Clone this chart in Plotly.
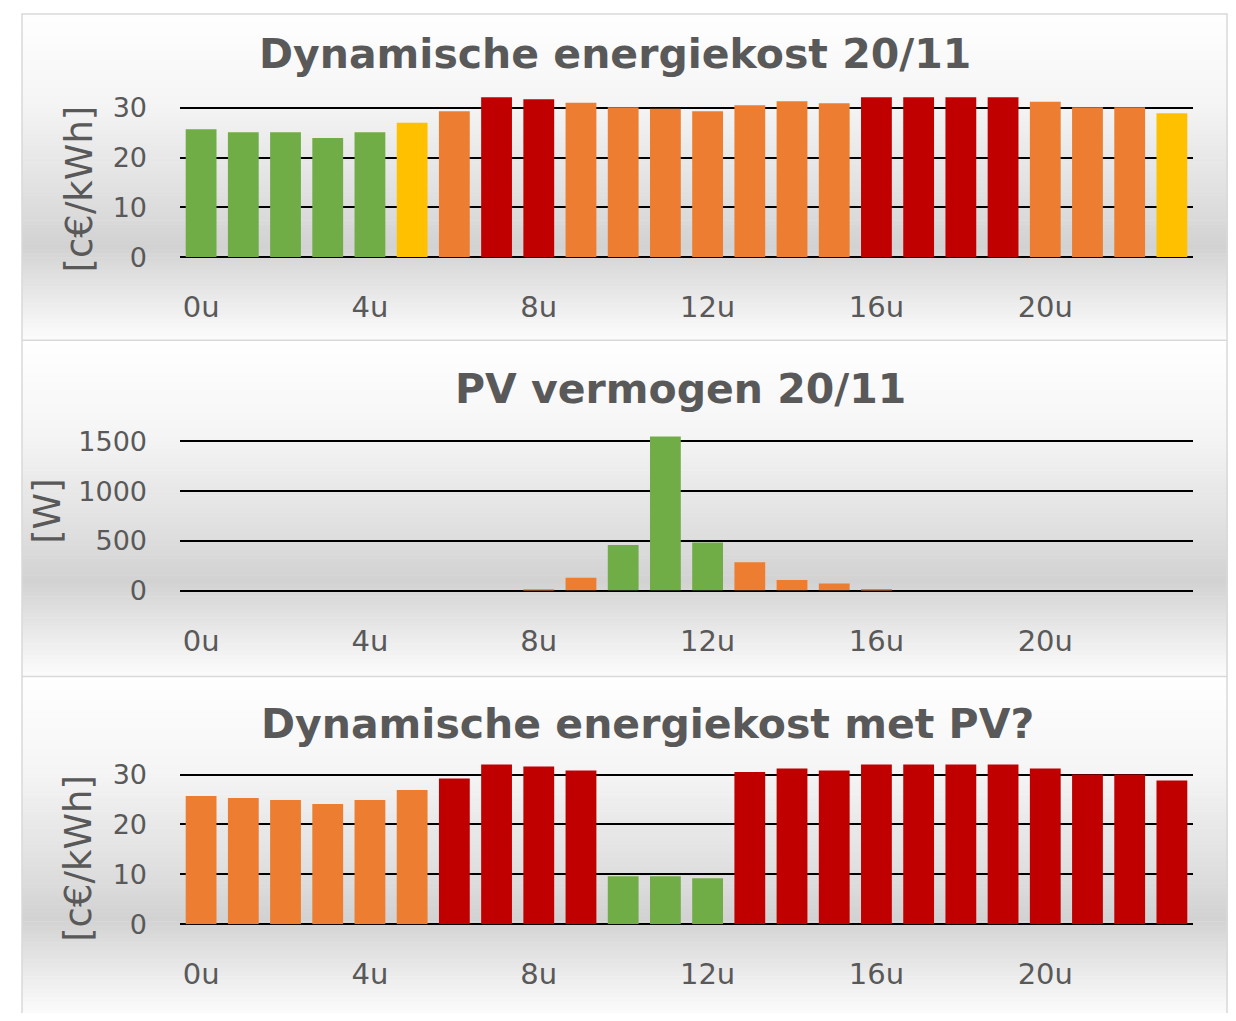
import numpy as np
import plotly.graph_objects as go

# --- data -------------------------------------------------------------------
HOURS = list(range(24))
TICK_HOURS = [0, 4, 8, 12, 16, 20]
TICK_LABELS = ["0u", "4u", "8u", "12u", "16u", "20u"]

# dynamic price 20/11 [c€/kWh]
PRICE = [25.7, 25.1, 25.1, 23.9, 25.1, 27.0, 29.3, 32.1, 31.7, 31.0, 30.1, 29.8,
         29.3, 30.5, 31.3, 30.9, 32.1, 32.1, 32.1, 32.1, 31.2, 30.1, 30.1, 28.9]
PRICE_LEVEL = ["laag", "laag", "laag", "laag", "laag", "midden", "hoog", "piek",
               "piek", "hoog", "hoog", "hoog", "hoog", "hoog", "hoog", "hoog",
               "piek", "piek", "piek", "piek", "hoog", "hoog", "hoog", "midden"]

# PV power 20/11 [W]
PV = [0, 0, 0, 0, 0, 0, 0, 0, 12, 128, 459, 1549,
      482, 285, 105, 72, 15, 0, 0, 0, 0, 0, 0, 0]
PV_LEVEL = ["hoog", "hoog", "hoog", "hoog", "hoog", "hoog", "hoog", "hoog",
            "hoog", "hoog", "laag", "laag", "laag", "hoog", "hoog", "hoog",
            "hoog", "hoog", "hoog", "hoog", "hoog", "hoog", "hoog", "hoog"]

# dynamic price with PV [c€/kWh]
PRICE_PV = [25.7, 25.3, 24.9, 24.1, 24.9, 26.9, 29.2, 32.0, 31.6, 30.8, 9.6, 9.6,
            9.2, 30.5, 31.2, 30.8, 32.0, 32.0, 32.0, 32.0, 31.2, 30.0, 30.0, 28.8]
PRICE_PV_LEVEL = ["hoog", "hoog", "hoog", "hoog", "hoog", "hoog", "piek", "piek",
                  "piek", "piek", "laag", "laag", "laag", "piek", "piek", "piek",
                  "piek", "piek", "piek", "piek", "piek", "piek", "piek", "piek"]

COLORS = {"laag": "#70AD47", "midden": "#FFC000", "hoog": "#ED7D31", "piek": "#C00000"}

# figure fits inside the page with the browser's 8px body margin on each side
OFF = 8
W, H = 1236 - 2 * OFF, 1021 - 2 * OFF
TEXT = "#595959"
TITLE_FONT = dict(family="DejaVu Sans", size=41, color=TEXT, weight="bold")
TICK_FONT = dict(family="DejaVu Sans", size=27, color=TEXT)


def px_x(x):
    return (x - OFF) / W


def px_y(y):
    return 1 - (y - OFF) / H


def gradient(y0, y1, n=80):
    """Vertical grey gradient (white - grey - white) for one panel, open-bottom frame."""
    stops = [(0.0, 255), (0.28, 245), (0.58, 222), (0.72, 210), (0.86, 232), (1.0, 252)]
    fs, vs = zip(*stops)
    edges = np.linspace(y0, y1, n + 1)
    out = []
    for a, b in zip(edges[:-1], edges[1:]):
        v = int(round(np.interp(((a + b) / 2 - y0) / (y1 - y0), fs, vs)))
        out.append(dict(type="rect", xref="paper", yref="paper", layer="below",
                        x0=px_x(22), x1=px_x(1228), y0=px_y(b), y1=px_y(a) + 0.0005,
                        fillcolor=f"rgb({v},{v},{v})", line_width=0))
    xl, xr = px_x(22), px_x(1227)
    yt, yb = px_y(max(y0, OFF + 1)), px_y(y1)
    out.append(dict(type="path", xref="paper", yref="paper", layer="below",
                    path=f"M {xl},{yb} L {xl},{yt} L {xr},{yt} L {xr},{yb}",
                    line=dict(color="#d9d9d9", width=1.5)))
    return out


fig = go.Figure()

panels = [
    (PRICE, PRICE_LEVEL, "x", "y"),
    (PV, PV_LEVEL, "x2", "y2"),
    (PRICE_PV, PRICE_PV_LEVEL, "x3", "y3"),
]
for vals, levels, xa, ya in panels:
    fig.add_trace(go.Bar(x=HOURS, y=vals, marker_color=[COLORS[l] for l in levels],
                         marker_line_width=0, xaxis=xa, yaxis=ya, showlegend=False))

x_dom = [px_x(180), px_x(1193)]
xcommon = dict(range=[-0.5, 23.5], tickvals=TICK_HOURS, ticktext=TICK_LABELS,
               tickfont=dict(family="DejaVu Sans", size=29, color=TEXT),
               showgrid=False, zeroline=False, showline=False, ticks="",
               ticklabelstandoff=30, domain=x_dom, fixedrange=True)
ycommon = dict(showgrid=True, gridcolor="#000000", gridwidth=2, zeroline=True,
               zerolinecolor="#000000", zerolinewidth=2, showline=False, ticks="",
               tickfont=TICK_FONT, ticklabelstandoff=32, fixedrange=True)

fig.update_layout(
    width=W, height=H, margin=dict(l=0, r=0, t=0, b=0),
    paper_bgcolor="white", plot_bgcolor="rgba(0,0,0,0)", bargap=0.27,
    xaxis=dict(anchor="y", **xcommon),
    xaxis2=dict(anchor="y2", **xcommon),
    xaxis3=dict(anchor="y3", **xcommon),
    yaxis=dict(anchor="x", range=[0, 33], tickvals=[0, 10, 20, 30],
               domain=[px_y(257), px_y(257 - 33 * 5.077)], **ycommon),
    yaxis2=dict(anchor="x2", range=[0, 1600], tickvals=[0, 500, 1000, 1500],
                domain=[px_y(597.3), px_y(597.3 - 1600 * 0.1015)], **ycommon),
    yaxis3=dict(anchor="x3", range=[0, 33], tickvals=[0, 10, 20, 30],
                domain=[px_y(937.7), px_y(937.7 - 33 * 5.09)], **ycommon),
    shapes=gradient(5, 342) + gradient(342, 685) + gradient(685, 1030),
)

titles = [("Dynamische energiekost 20/11", 615, 50),
          ("PV vermogen 20/11", 680, 392),
          ("Dynamische energiekost met PV?", 647, 733)]
for text, x, y in titles:
    fig.add_annotation(text=text, x=px_x(x), y=px_y(y), xref="paper", yref="paper",
                       showarrow=False, font=TITLE_FONT, xanchor="center", yanchor="middle")

ytitles = [("[c€/kWh]", 79, 188), ("[W]", 48, 517), ("[c€/kWh]", 79, 871)]
for text, x, y in ytitles:
    fig.add_annotation(text=text, x=px_x(x), y=px_y(y), xref="paper", yref="paper",
                       showarrow=False, textangle=-90, xanchor="center", yanchor="middle",
                       font=dict(family="DejaVu Sans", size=37, color=TEXT))

fig.write_html("out.html")
